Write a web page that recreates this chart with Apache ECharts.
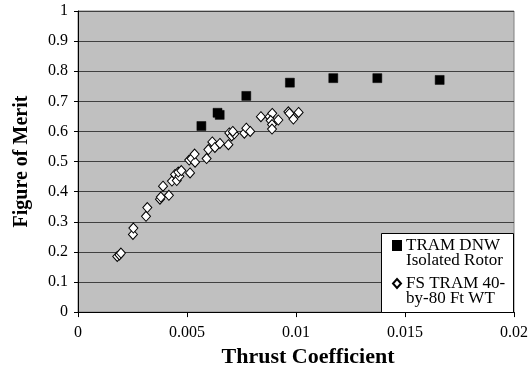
<!DOCTYPE html>
<html>
<head>
<meta charset="utf-8">
<script src="https://cdn.jsdelivr.net/npm/echarts@6/dist/echarts.min.js"></script>
<style>html,body{margin:0;padding:0;background:#fff}#c{width:532px;height:373px}</style>
</head>
<body>
<div id="c"></div>
<script>
// TRAM DNW Isolated Rotor: [thrust coefficient, figure of merit]
var dnwData = [
  [0.00566, 0.618], [0.0064, 0.662], [0.0065, 0.655], [0.00772, 0.718],
  [0.00972, 0.762], [0.01171, 0.777], [0.01373, 0.777], [0.01659, 0.771]
];
// FS TRAM 40-by-80 Ft WT
var fsData = [
  [0.0018, 0.185], [0.0019, 0.19], [0.00197, 0.196],
  [0.00252, 0.258], [0.00254, 0.279],
  [0.00312, 0.318], [0.00318, 0.347],
  [0.00376, 0.375], [0.0038, 0.382], [0.0039, 0.418], [0.00417, 0.388],
  [0.00431, 0.435], [0.00445, 0.457], [0.00453, 0.437], [0.00465, 0.451],
  [0.0046, 0.465], [0.00474, 0.47],
  [0.00514, 0.462], [0.0051, 0.505], [0.00521, 0.51], [0.00537, 0.498], [0.00535, 0.525],
  [0.0059, 0.51], [0.00598, 0.54], [0.00616, 0.565], [0.00628, 0.547], [0.00651, 0.56],
  [0.0069, 0.556], [0.00694, 0.595], [0.00705, 0.585], [0.00717, 0.592], [0.0071, 0.6],
  [0.00763, 0.594], [0.00772, 0.611], [0.0079, 0.6],
  [0.00839, 0.649], [0.00879, 0.649], [0.00891, 0.66], [0.00884, 0.636],
  [0.00919, 0.638], [0.0089, 0.623], [0.0089, 0.608],
  [0.00965, 0.665], [0.00988, 0.641], [0.01012, 0.663], [0.0097, 0.66]
];
var seriesNames = ['TRAM DNW\nIsolated Rotor', 'FS TRAM 40-\nby-80 Ft WT'];
var xTickLabels = ['0', '0.005', '0.01', '0.015', '0.02'];
var yTickLabels = ['0', '0.1', '0.2', '0.3', '0.4', '0.5', '0.6', '0.7', '0.8', '0.9', '1'];
var xTitle = 'Thrust Coefficient';
var yTitle = 'Figure of Merit';

var FONT = 'Liberation Serif';
var chart = echarts.init(document.getElementById('c'), null, {renderer: 'canvas'});
chart.setOption({
  animation: false,
  backgroundColor: '#ffffff',
  grid: {
    left: 78, top: 11, width: 436, height: 307,
    show: true, backgroundColor: '#C0C0C0', borderColor: '#808080', borderWidth: 1
  },
  xAxis: {
    type: 'value', min: 0, max: 0.02, interval: 0.005,
    axisLine: {show: true, onZero: false, lineStyle: {color: '#000', width: 1}},
    axisTick: {show: true, inside: false, length: 5, lineStyle: {color: '#000'}},
    splitLine: {show: false},
    axisLabel: {
      margin: 13, color: '#000', fontFamily: FONT, fontSize: 16,
      formatter: function (v) { return xTickLabels[Math.round(v / 0.005)]; }
    },
    name: xTitle, nameLocation: 'middle', nameGap: 31,
    nameTextStyle: {fontFamily: FONT, fontSize: 22, fontWeight: 'bold', color: '#000', padding: [0, 0, 0, 24]}
  },
  yAxis: {
    type: 'value', min: 0, max: 1, interval: 0.1,
    axisLine: {show: true, onZero: false, lineStyle: {color: '#000', width: 1}},
    axisTick: {show: true, inside: false, length: 4, lineStyle: {color: '#000'}},
    splitLine: {show: true, lineStyle: {color: '#404040', width: 1}},
    axisLabel: {
      margin: 10, color: '#000', fontFamily: FONT, fontSize: 16,
      formatter: function (v) { return yTickLabels[Math.round(v * 10)]; }
    },
    name: yTitle, nameLocation: 'middle', nameGap: 46, nameRotate: 90,
    nameTextStyle: {fontFamily: FONT, fontSize: 20, fontWeight: 'bold', color: '#000'}
  },
  graphic: [{
    type: 'rect', left: 381, top: 233, z: 5,
    shape: {width: 132, height: 79},
    style: {fill: '#fff', stroke: '#000', lineWidth: 1}
  }],
  legend: {
    orient: 'vertical', left: 392, top: 222, padding: 0, itemGap: -9,
    itemWidth: 8, itemHeight: 9, z: 10, selectedMode: false,
    textStyle: {fontFamily: FONT, fontSize: 17, color: '#000', lineHeight: 15},
    formatter: function (name) { return '\n' + name; },
    data: seriesNames
  },
  series: [
    {
      name: seriesNames[0], type: 'scatter', data: dnwData,
      symbol: 'rect', symbolSize: 9,
      itemStyle: {color: '#000', borderColor: '#000', borderWidth: 0.5, opacity: 1}
    },
    {
      name: seriesNames[1], type: 'scatter', data: fsData,
      symbol: 'diamond', symbolSize: [9, 10],
      itemStyle: {color: '#fff', borderColor: '#000', borderWidth: 1, opacity: 1}
    }
  ]
});
</script>
</body>
</html>
